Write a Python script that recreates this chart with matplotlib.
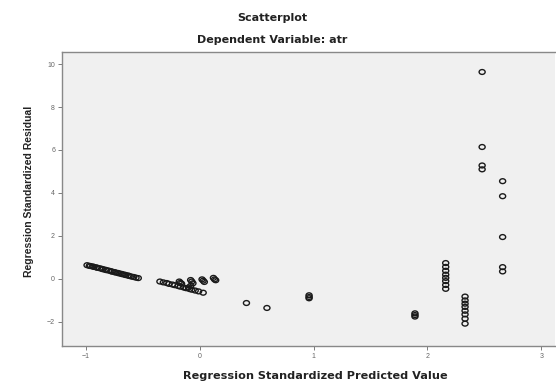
import matplotlib
matplotlib.use("Agg")
import matplotlib.pyplot as plt
from matplotlib.path import Path
from matplotlib.transforms import Affine2D

# Left cluster (predicted, residual)
left_x = [-0.99, -0.97, -0.96, -0.94, -0.93, -0.91, -0.90, -0.88, -0.86, -0.85, -0.83, -0.82,
          -0.80, -0.78, -0.77, -0.75, -0.74, -0.72, -0.71, -0.69, -0.68, -0.66, -0.65, -0.63,
          -0.62, -0.60, -0.58, -0.56, -0.54]
left_y = [0.64, 0.61, 0.60, 0.58, 0.56, 0.54, 0.52, 0.50, 0.47, 0.45, 0.43, 0.41,
          0.39, 0.36, 0.34, 0.32, 0.30, 0.28, 0.26, 0.24, 0.22, 0.20, 0.18, 0.16,
          0.14, 0.11, 0.09, 0.06, 0.04]

# Middle band
mid_x = [-0.35, -0.32, -0.29, -0.27, -0.24, -0.22, -0.19, -0.17, -0.14, -0.12, -0.09,
         -0.07, -0.04, -0.01, 0.03,
         -0.18, -0.17, -0.16, -0.08, -0.07, -0.06, 0.02, 0.03, 0.04, 0.12, 0.13, 0.14,
         -0.08, -0.10]
mid_y = [-0.12, -0.16, -0.19, -0.23, -0.26, -0.29, -0.33, -0.36, -0.40, -0.43, -0.47,
         -0.50, -0.54, -0.58, -0.64,
         -0.12, -0.18, -0.22, -0.05, -0.12, -0.20, -0.02, -0.08, -0.14, 0.05, -0.02, -0.06,
         -0.32, -0.40]

# Scattered remaining points
other_x = [0.41, 0.59, 0.96, 0.96, 0.96, 1.89, 1.89, 1.89,
           2.16, 2.16, 2.16, 2.16, 2.16, 2.16, 2.16, 2.16,
           2.33, 2.33, 2.33, 2.33, 2.33, 2.33, 2.33, 2.33,
           2.48, 2.48, 2.48, 2.48,
           2.66, 2.66, 2.66, 2.66, 2.66]
other_y = [-1.12, -1.35, -0.76, -0.84, -0.90, -1.60, -1.68, -1.75,
           0.74, 0.56, 0.38, 0.20, 0.05, -0.10, -0.28, -0.46,
           -0.82, -1.00, -1.15, -1.30, -1.48, -1.65, -1.85, -2.08,
           9.63, 6.14, 5.28, 5.10,
           4.55, 3.85, 1.95, 0.55, 0.35]

x_ticks = [-1, 0, 1, 2, 3]
y_ticks = [-2, 0, 2, 4, 6, 8, 10]

plt.rcParams['font.family'] = ['Liberation Sans', 'DejaVu Sans']

fig = plt.figure(figsize=(5.56, 3.82), dpi=100)
fig.patch.set_facecolor('white')
ax = fig.add_axes([62/556, 36/382, 1 - 62/556 - 1/556, (346-52)/382])
ax.set_facecolor('#f0f0f0')

ellipse = Path.unit_circle().transformed(Affine2D().scale(1.25, 1.0))

xs = left_x + mid_x + other_x
ys = left_y + mid_y + other_y
ax.scatter(xs, ys, s=19, marker=ellipse, facecolors='none', edgecolors='#1a1a1a',
           linewidths=1.0, zorder=3)

ax.set_xlim(-1.21, 3.12)
ax.set_ylim(-3.12, 10.56)
ax.set_xticks(x_ticks)
ax.set_yticks(y_ticks)
ax.tick_params(axis='both', labelsize=5, colors='#666666', length=3, width=0.6, pad=2)
for side in ['top', 'left', 'bottom']:
    ax.spines[side].set_color('#888888')
    ax.spines[side].set_linewidth(1.0)
ax.spines['right'].set_visible(False)

wide = ['DejaVu Sans']
fig.text(0.49, 1 - 18/382, 'Scatterplot', ha='center', va='center', family=wide,
         fontsize=8, fontweight='bold', color='#222222')
fig.text(0.49, 1 - 40/382, 'Dependent Variable: atr', ha='center', va='center', family=wide,
         fontsize=8, fontweight='bold', color='#222222')
fig.text(315/556, 1 - 376/382, 'Regression Standardized Predicted Value', ha='center',
         va='center', fontsize=8.1, fontweight='bold', color='#222222', family=wide)
fig.text(29/556, 1 - 191/382, 'Regression Standardized Residual', ha='center',
         va='center', rotation=90, fontsize=7.5, fontweight='bold', color='#222222')

fig.savefig('out.png', dpi=100)
